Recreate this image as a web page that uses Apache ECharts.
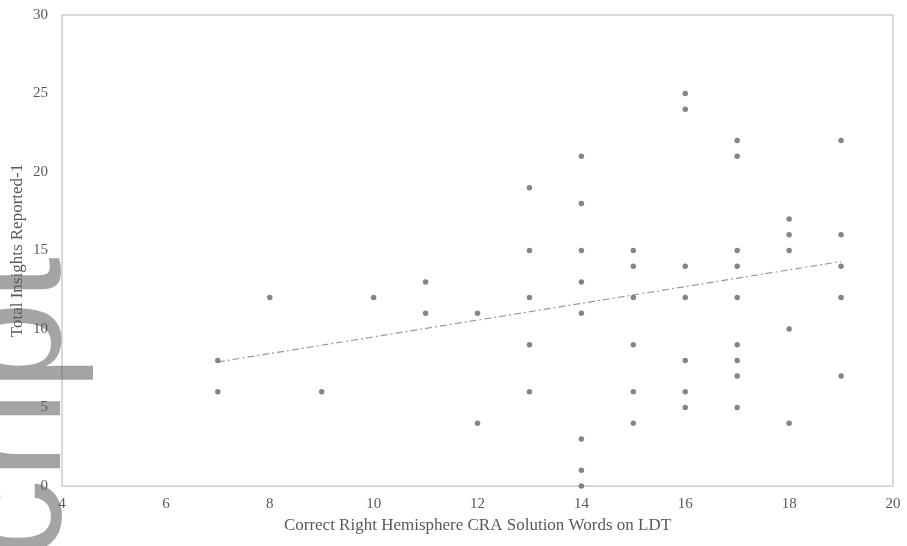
<!DOCTYPE html>
<html>
<head>
<meta charset="utf-8">
<script src="https://cdn.jsdelivr.net/npm/echarts@6/dist/echarts.min.js"></script>
<style>html,body{margin:0;padding:0;background:#fff;}#c{width:907px;height:546px;}</style>
</head>
<body>
<div id="c"></div>
<script>
// Scatter data (x = correct RH CRA solution words on LDT, y = total insights reported)
const xValues = [7,7, 8, 9, 10, 11,11, 12,12, 13,13,13,13,13, 14,14,14,14,14,14,14,14, 15,15,15,15,15,15, 16,16,16,16,16,16,16, 17,17,17,17,17,17,17,17,17, 18,18,18,18,18, 19,19,19,19,19];
const yValues = [8,6, 12, 6, 12, 13,11, 11,4, 19,15,12,9,6, 21,18,15,13,11,3,1,0, 15,14,12,9,6,4, 25,24,14,12,8,6,5, 22,21,15,14,12,9,8,7,5, 17,16,15,10,4, 22,16,14,12,7];
// Linear trend line endpoints
const trendX = [7, 19];
const trendY = [7.9, 14.3];
const xTitle = 'Correct Right Hemisphere CRA Solution Words on LDT';
const yTitle = 'Total Insights Reported-1';
const watermark = 'Author Manuscript';

const points = xValues.map((x, i) => [x, yValues[i]]);
const trend = trendX.map((x, i) => [x, trendY[i]]);

const chart = echarts.init(document.getElementById('c'), null, {renderer: 'canvas'});
const serif = '"Liberation Serif", "Times New Roman", serif';
chart.setOption({
  animation: false,
  backgroundColor: '#ffffff',
  grid: {left: 62, right: 14, top: 15, bottom: 60, containLabel: false, outerBoundsMode: 'none',
         show: true, borderColor: '#d9d9d9', borderWidth: 2, backgroundColor: 'transparent'},
  xAxis: {
    type: 'value', min: 4, max: 20, interval: 2,
    name: xTitle, nameLocation: 'middle', nameGap: 31, nameMoveOverlap: false,
    nameTextStyle: {fontFamily: serif, fontSize: 17, color: '#595959'},
    axisLine: {show: false}, axisTick: {show: false}, splitLine: {show: false},
    axisLabel: {fontFamily: serif, fontSize: 15, color: '#595959', margin: 11}
  },
  yAxis: {
    type: 'value', min: 0, max: 30, interval: 5,
    name: yTitle, nameLocation: 'middle', nameGap: 36, nameRotate: 90, nameMoveOverlap: false,
    nameTextStyle: {fontFamily: serif, fontSize: 17, color: '#595959'},
    axisLine: {show: false}, axisTick: {show: false}, splitLine: {show: false},
    axisLabel: {fontFamily: serif, fontSize: 15, color: '#595959', margin: 14}
  },
  series: [
    {
      type: 'line', data: trend, symbol: 'none', silent: true,
      lineStyle: {color: '#9a9a9a', width: 1.2, type: [7, 3, 2, 3]}, z: 2
    },
    {
      type: 'scatter', data: points, symbol: 'circle', symbolSize: 5.5,
      itemStyle: {color: '#666666'}, z: 3, clip: false
    }
  ],
  graphic: [{
    type: 'text', x: 96, y: 257, rotation: Math.PI / 2, z: 100, silent: true,
    style: {
      text: watermark, font: '160px "Liberation Sans", Arial, sans-serif',
      fill: 'rgba(90,90,90,0.55)', align: 'right', verticalAlign: 'bottom'
    }
  }]
});
</script>
</body>
</html>
